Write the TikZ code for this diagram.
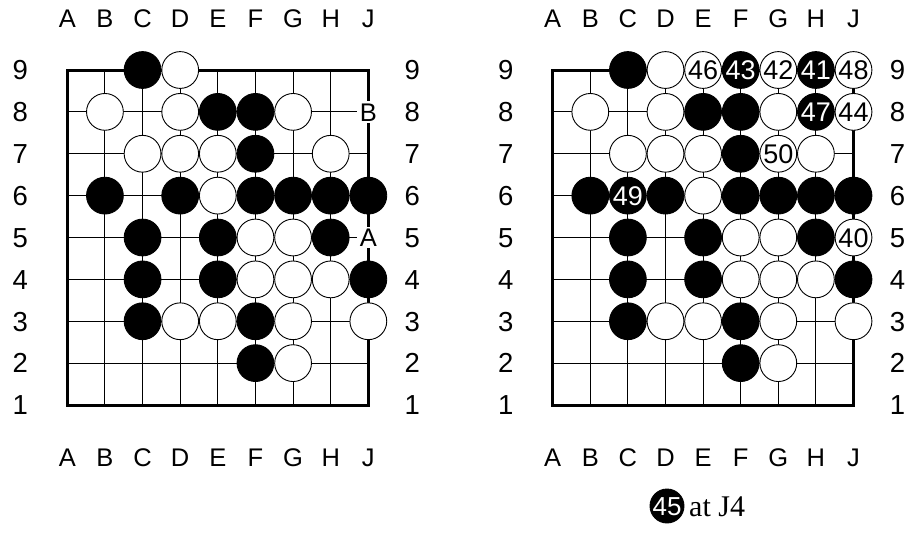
\documentclass[tikz,border=0pt]{standalone}
\usepackage{fontspec}
\setmainfont{Liberation Serif}
\newfontfamily\arialf{Liberation Sans}
\newcommand\zw[1]{\makebox[0pt]{#1}}
\tikzset{
 gridline/.style={line width=0.9pt, black},
 frame/.style={line width=3pt, line join=miter},
 stone/.style={circle, draw=black, line width=0.9pt, minimum size=36.8pt, inner sep=0pt,
   font=\arialf\fontsize{27}{27}\selectfont, text height=19.3pt, text depth=0pt},
 bst/.style={stone, fill=black, text=white},
 wst/.style={stone, fill=white, text=black},
 collab/.style={font=\arialf\fontsize{25.5}{25.5}\selectfont, text height=18.3pt, text depth=0pt, inner sep=0pt},
 rowlab/.style={font=\arialf\fontsize{27.5}{27.5}\selectfont, text height=19.7pt, text depth=0pt, inner sep=0pt},
 boardlet/.style={collab, fill=white, inner xsep=3pt, inner ysep=1.5pt},
}
\newcommand\gogrid[1]{%
 \foreach \i in {1,...,7} {\draw[gridline] (\i,0) -- (\i,8); \draw[gridline] (0,\i) -- (8,\i);}
 \draw[frame] (0,0) rectangle (8,8);
 \foreach \l [count=\k from 0] in {A,B,C,D,E,F,G,H,J} {%
   \node[collab] (#1t\l) at (\k,9.24) {\l};
   \node[collab] (#1b\l) at (\k,-1.24) {\l};}
 \foreach \k in {1,...,9} {%
   \node[rowlab] (#1l\k) at (-1.25,\k-1) {\k};
   \node[rowlab] (#1r\k) at (9.17,\k-1) {\k};}
}
\newcommand\commonstones[1]{%
 \foreach \c/\r in {2/8,4/7,5/7,5/6,1/5,3/5,5/5,6/5,7/5,8/5,2/4,4/4,7/4,2/3,4/3,8/3,2/2,5/2,5/1}
   {\node[bst] (#1B\c-\r) at (\c,\r) {};}
 \foreach \c/\r in {3/8,1/7,3/7,6/7,2/6,3/6,4/6,7/6,4/5,5/4,6/4,5/3,6/3,7/3,3/2,4/2,6/2,8/2,6/1}
   {\node[wst] (#1W\c-\r) at (\c,\r) {};}
}
\begin{document}
\begin{tikzpicture}[x=1pt,y=-1pt]
\useasboundingbox (0,0) rectangle (909,539);
\begin{scope}[xshift=67.3pt, yshift=-405pt, x=37.63pt, y=41.875pt]
 \gogrid{L}
 \commonstones{L}
 \node[boardlet] (LmarkB) at (8,7) {B};
 \node[boardlet] (LmarkA) at (8,4) {A};
\end{scope}
\begin{scope}[xshift=552.7pt, yshift=-405pt, x=37.6pt, y=41.875pt]
 \gogrid{R}
 \commonstones{R}
 \foreach \c/\r/\n in {5/8/43,7/8/41,7/7/47,2/5/49}
   {\node[bst] (RN\n) at (\c,\r) {\zw{\n}};}
 \foreach \c/\r/\n in {4/8/46,6/8/42,8/8/48,8/7/44,6/6/50,8/4/40}
   {\node[wst] (RN\n) at (\c,\r) {\zw{\n}};}
\end{scope}
\node[bst, minimum size=34pt, font=\arialf\fontsize{26}{26}\selectfont, text height=18.6pt] (n45) at (667,506) {\zw{45}};
\node[anchor=base west, font=\fontsize{30}{30}\selectfont, inner sep=0pt] (atJ4) at (689,516) {at J4};
\end{tikzpicture}
\end{document}
